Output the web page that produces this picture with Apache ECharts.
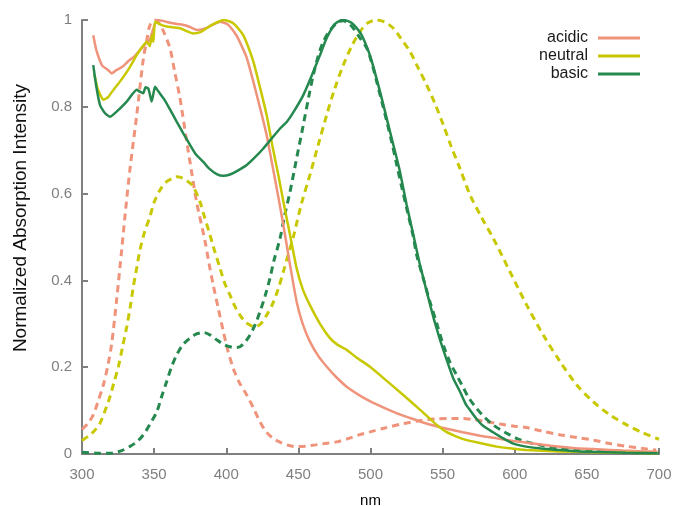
<!DOCTYPE html>
<html>
<head>
<meta charset="utf-8">
<script src="https://cdn.jsdelivr.net/npm/echarts@6/dist/echarts.min.js"></script>
<style>html,body{margin:0;padding:0;background:#fff}#c{width:674px;height:506px}</style>
</head>
<body>
<div id="c"></div>
<script>
// ---- data (wavelength in nm, normalized absorption) ----
var seriesNames = ['acidic', 'neutral', 'basic'];
var xTicks = [300, 350, 400, 450, 500, 550, 600, 650, 700];
var yTicks = [0, 0.2, 0.4, 0.6, 0.8, 1];
var xTitle = 'nm';
var yTitle = 'Normalized Absorption Intensity';

// measured (solid)
var acidicX = [307.8,310,314,318,320.6,324,328,332,336,340,344,347,349,351.8,356,362,368,374,379.5,385,390,395.7,401,407,410,414,419,424,428,432,436.5,441,444.5,448.8,453,458,464,470,476,483.5,495,505,518,530,541,553,564,576,587.5,599,611,625,640,657,675,690,699];
var acidicY = [0.965,0.93,0.895,0.885,0.877,0.885,0.892,0.905,0.915,0.93,0.945,0.955,0.975,1.0,0.998,0.993,0.99,0.985,0.977,0.98,0.988,0.996,0.99,0.965,0.945,0.915,0.855,0.79,0.735,0.665,0.585,0.5,0.43,0.351,0.3,0.259,0.225,0.2,0.178,0.155,0.13,0.113,0.094,0.08,0.068,0.058,0.05,0.042,0.036,0.03,0.025,0.019,0.014,0.011,0.008,0.006,0.005];

var neutralX = [308.5,311,314.8,318,322,326.3,332,337.9,341,344.9,347,348.5,349.5,350.6,354,358.7,363,368,372,377,382,386.4,392,398,402,405,408.5,411.8,415,418.8,423,428,432,436.1,440,444.2,448.8,453,458,465,471.9,477,483.5,490,499.7,510,522.7,535,545.9,552,559.7,566.7,575,587.5,600,608,630,654.5,680,699];
var neutralY = [0.875,0.84,0.816,0.822,0.84,0.858,0.885,0.919,0.935,0.95,0.94,0.965,0.95,0.996,0.99,0.985,0.983,0.981,0.975,0.969,0.972,0.981,0.992,1.0,0.997,0.992,0.98,0.965,0.94,0.904,0.85,0.781,0.71,0.643,0.575,0.505,0.428,0.38,0.343,0.3,0.267,0.252,0.24,0.223,0.201,0.172,0.136,0.1,0.067,0.052,0.04,0.032,0.026,0.017,0.012,0.009,0.006,0.004,0.003,0.002];

var basicX = [307.8,310,312.5,316,319.4,324,331,337.9,340,342.5,344,346,347.3,348.3,349.5,350.6,353,356.4,360,365.6,370,374.9,379,384.1,388,393.4,398,402.6,408,414.2,420,425.7,431,437.3,441.9,447,453.4,459,465,468.5,471.9,475,478.5,481,484,487,490,493,496,499.6,503,506.6,510,513.5,517,520.4,525,529.7,534,539,544,548.2,553,557.4,562,566,569,573,578,585,592,599,608,620,631,650,677,699];
var basicY = [0.896,0.845,0.804,0.785,0.777,0.789,0.812,0.839,0.835,0.831,0.845,0.842,0.825,0.812,0.83,0.846,0.835,0.82,0.8,0.766,0.74,0.712,0.69,0.673,0.658,0.645,0.641,0.644,0.653,0.666,0.684,0.704,0.725,0.75,0.765,0.79,0.827,0.87,0.919,0.95,0.973,0.99,0.998,1.0,0.998,0.993,0.983,0.97,0.95,0.919,0.88,0.835,0.79,0.743,0.697,0.651,0.575,0.505,0.44,0.374,0.31,0.263,0.215,0.174,0.144,0.115,0.101,0.083,0.065,0.05,0.036,0.024,0.017,0.012,0.009,0.005,0.003,0.002];

// calculated (dashed)
var acidicCalcX = [300,304,307.8,311,314.8,318,320.6,324,327.5,330,333.3,337.9,342.5,345,347.1,350.6,354,357,361,364,367.9,372.6,376,379.5,385.3,388,391,394.5,398,401,404.9,409,414.2,419,423.4,428,432.6,438,443,448.8,455,462,470,476.6,485,492,499.7,510,522.7,535,545.9,556,564,572,580,590,600,608,620,632,643,654.5,666,677,688,698];
var acidicCalcY = [0.057,0.07,0.09,0.12,0.159,0.205,0.255,0.355,0.47,0.555,0.658,0.78,0.91,0.955,0.988,1.0,0.99,0.97,0.935,0.885,0.82,0.72,0.65,0.58,0.49,0.44,0.389,0.335,0.282,0.24,0.197,0.165,0.136,0.105,0.074,0.05,0.036,0.026,0.02,0.017,0.018,0.021,0.025,0.028,0.036,0.044,0.051,0.06,0.07,0.077,0.081,0.082,0.082,0.079,0.075,0.069,0.064,0.061,0.052,0.044,0.038,0.032,0.024,0.018,0.013,0.009];

var neutralCalcX = [300,305.5,309,312.5,316,319.4,322,325.2,328,331,333.5,335.6,338,340.2,343.5,347.1,350,354,358,363.3,366,370.2,374.9,377.2,381.8,384.1,388.7,391,395.7,399,402.6,406,409.5,413,416.5,419.9,424,428,432,436,440,443,446.5,452,458,464,469.6,475,481.1,487,492.7,498,504.3,510,515.8,521,527.4,533,539,545,550.5,556,562,569,577,585.1,596.7,608.3,619.8,631.4,643,654.5,666,677.6,688,700];
var neutralCalcY = [0.031,0.044,0.055,0.071,0.1,0.132,0.163,0.201,0.245,0.293,0.34,0.386,0.43,0.47,0.513,0.547,0.58,0.608,0.626,0.636,0.639,0.635,0.624,0.616,0.581,0.555,0.505,0.478,0.428,0.393,0.366,0.34,0.32,0.305,0.297,0.293,0.3,0.32,0.345,0.38,0.425,0.46,0.5,0.575,0.643,0.715,0.781,0.84,0.896,0.94,0.973,0.993,1.0,0.995,0.981,0.958,0.927,0.89,0.85,0.805,0.758,0.708,0.658,0.597,0.545,0.497,0.42,0.343,0.274,0.213,0.159,0.12,0.09,0.067,0.05,0.034];

var basicCalcX = [300,310,321,327,333,338,342.5,347,351.8,355,358.7,362,365.6,370,374.9,379,384.1,389,393.4,398,402.6,406,409.5,413,416.5,420,423.4,427,430.3,433,437.3,440.5,444.2,449,453.4,457,460.3,464,467.3,471,474.2,478,481.1,484.5,488.1,492,497.4,501,504.3,508,511.3,515,518.2,522,525.1,529.7,532,537,541.2,546,550.5,555,559.7,564,568,573.6,579,585,591,596.7,602,608,620,631,643,654,670,685,700];
var basicCalcY = [0.004,0.002,0.002,0.007,0.017,0.028,0.044,0.068,0.097,0.13,0.167,0.2,0.228,0.252,0.267,0.276,0.28,0.274,0.263,0.253,0.247,0.245,0.247,0.258,0.274,0.298,0.328,0.365,0.405,0.445,0.497,0.55,0.604,0.685,0.758,0.82,0.873,0.92,0.95,0.972,0.985,0.996,0.998,0.993,0.981,0.962,0.935,0.9,0.858,0.81,0.766,0.715,0.666,0.61,0.566,0.5,0.459,0.4,0.351,0.3,0.251,0.212,0.182,0.155,0.13,0.105,0.085,0.067,0.054,0.044,0.035,0.028,0.019,0.013,0.009,0.006,0.004,0.003,0.002];

var colors = {acidic: '#F0937B', neutral: '#C8C800', basic: '#25894F'};

function pairs(xs, ys) { return xs.map(function (x, i) { return [x, ys[i]]; }); }

var FONT = 'Liberation Sans, Arial, sans-serif';
var axisGray = '#808080';

function solid(name, xs, ys) {
  return {
    name: name, type: 'line', data: pairs(xs, ys), showSymbol: false, symbol: 'none',
    smooth: 0.15, lineStyle: {color: colors[name], width: 2.5}, itemStyle: {color: colors[name]},
    z: 3, animation: false
  };
}
function dashed(name, xs, ys) {
  return {
    name: name + ' (calc)', type: 'line', data: pairs(xs, ys), showSymbol: false, symbol: 'none',
    smooth: 0.3, lineStyle: {color: colors[name], width: 3, type: [7, 5]}, itemStyle: {color: colors[name]},
    z: 2, animation: false
  };
}

var chart = echarts.init(document.getElementById('c'), null, {renderer: 'canvas'});
chart.setOption({
  backgroundColor: '#ffffff',
  animation: false,
  grid: {left: 82, right: 15, top: 20, bottom: 52, containLabel: false, outerBoundsMode: 'none'},
  legend: {
    data: seriesNames, orient: 'vertical', right: 29, top: 24, align: 'right',
    icon: 'rect', itemWidth: 42, itemHeight: 3, itemGap: 0,
    textStyle: {fontFamily: FONT, fontSize: 16, color: '#1a1a1a', lineHeight: 18, padding: [0, 5, 0, 0]},
    selectedMode: false
  },
  graphic: [{
    type: 'text', x: 21, y: 218, rotation: Math.PI / 2,
    style: {text: yTitle, font: '19px ' + FONT, fill: '#111', textAlign: 'center', textVerticalAlign: 'middle'}
  }],
  xAxis: {
    type: 'value', min: xTicks[0], max: xTicks[xTicks.length - 1], interval: 50,
    name: xTitle, nameLocation: 'middle', nameGap: 39,
    nameTextStyle: {fontFamily: FONT, fontSize: 15, color: '#000'},
    axisLine: {show: true, onZero: false, lineStyle: {color: axisGray, width: 2}},
    axisTick: {show: true, inside: true, length: 6, lineStyle: {color: axisGray, width: 2}},
    axisLabel: {fontFamily: FONT, fontSize: 15, color: '#7f7f7f', margin: 13},
    splitLine: {show: false}
  },
  yAxis: {
    type: 'value', min: yTicks[0], max: yTicks[yTicks.length - 1], interval: 0.2,
    axisLine: {show: true, onZero: false, lineStyle: {color: axisGray, width: 2}},
    axisTick: {show: true, inside: true, length: 6, lineStyle: {color: axisGray, width: 2}},
    axisLabel: {fontFamily: FONT, fontSize: 15, color: '#7f7f7f', margin: 10},
    splitLine: {show: false}
  },
  series: [
    dashed('acidic', acidicCalcX, acidicCalcY),
    dashed('neutral', neutralCalcX, neutralCalcY),
    dashed('basic', basicCalcX, basicCalcY),
    solid('acidic', acidicX, acidicY),
    solid('neutral', neutralX, neutralY),
    solid('basic', basicX, basicY)
  ]
});
</script>
</body>
</html>
